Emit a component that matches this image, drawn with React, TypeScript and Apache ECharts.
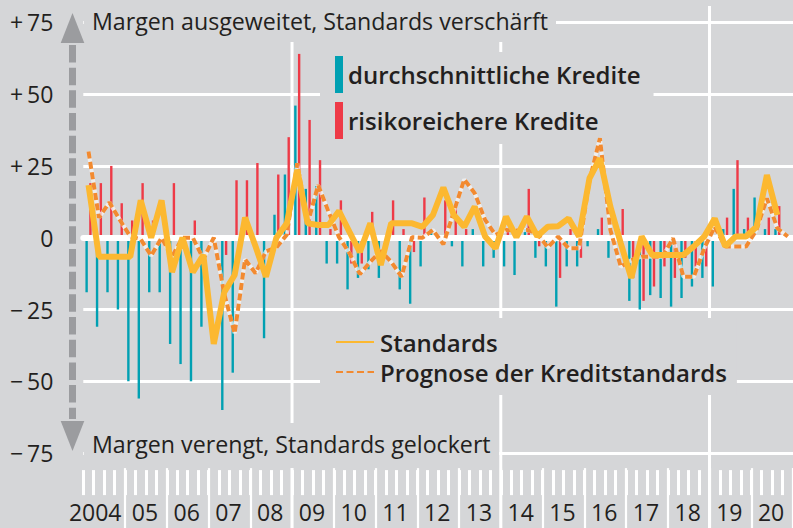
import React, { useEffect, useRef } from "react";
import * as echarts from "echarts";

// ---------- data ----------
const years = [2004, 2005, 2006, 2007, 2008, 2009, 2010, 2011, 2012, 2013, 2014, 2015, 2016, 2017, 2018, 2019, 2020];
const quarterNames = ["Q1", "Q2", "Q3", "Q4"];
const categories = years.flatMap((y) => quarterNames.map((q) => `${y} ${q}`));
const yearLabels = ["2004", "05", "06", "07", "08", "09", "10", "11", "12", "13", "14", "15", "16", "17", "18", "19", "20"];
const fiveYearLines = [2009, 2014, 2019];

// Margins: durchschnittliche Kredite (teal)
const durchschnittliche = [
  -19, -31, -19, -25, -50, -56, -19, -19, -37, -44, -50, -31, 0, -60, -47, 0,
  0, -35, 8, 22, 46, 17, 18, -9, -9, -18, -14, -11, -14, 2, -18, -23,
  -10, 3, 0, -3, -10, 3, -10, -7, -10, -13, 3, -7, -10, -24, -10, -10,
  -3, 3, -7, 3, -22, -25, -20, -21, -24, -21, -17, -14, -17, 3, 17, 3,
  14, 3, 3, null,
];
// Margins: risikoreichere Kredite (red)
const risikoreichere = [
  19, 19, 25, 12, 6, 19, 6, 0, 19, 0, 6, 0, 0, -6, 20, 20,
  26, 0, 22, 35, 64, 41, 27, 3, 13, -9, -9, 9, 0, 13, 3, -5,
  14, 0, 13, 10, 3, 0, 0, 0, 3, 0, 17, -3, 0, -14, 3, -7,
  0, 7, 0, 10, -14, -22, -17, -10, -14, -7, -10, -10, 0, 7, 27, 7,
  0, 7, 11, null,
];
// Standards (solid yellow)
const standards = [
  18.3, -6.6, -6.6, -6.6, -6.6, 13, 0, 13, -12, 0, -12, -6, -37, -19, -13, 7,
  -3, -13.6, 0, 5, 23.6, 5, 4.4, 4.4, 9.3, 2, -5, 5, -9.5, 5, 5, 5,
  3.8, 7.9, 17.5, 7.9, 3.8, 10.8, 0.4, -3.7, 7.3, 0.2, 7.3, 0.5, 3.8, 4, 6.7, 0.4,
  20.7, 27.6, 10.8, -2, -14, 0.4, -6, -6, -6, -6, -3, 0.4, 6.7, -3, 0.4, 0.4,
  3.8, 21.8, 7.9, null,
];
// Prognose der Kreditstandards (dashed orange)
const prognose = [
  30, 7, 12.3, 6.2, 0.4, -0.5, -6.3, 0, -6.6, 0, 0, -7.5, 0, -19.4, -33.3, -7.5,
  -12.4, -4.8, -3.4, 1, 25.9, 5, 18.3, 9, 0.2, -5.4, -12.7, -8.4, -4.6, -8.4, -13.6, 0.2,
  0, 2.7, -2.3, 9, 20.3, 15.5, 6.2, 1, 2.7, 2.5, 2.7, 1.5, -3.4, 0.4, -3.7, -3.7,
  20, 34.6, 2.7, -10.1, -7.8, -6.6, -6.6, -6.6, -0.2, -13.6, -13.6, -3.7, 3.8, -3.1, -3.1, -3.1,
  2.7, 13.7, 3.3, 0.4,
];

// ---------- styles ----------
const BG = "#d5d6d8";
const TEXT = "#231f20";
const TEAL = "#00a0b2";
const RED = "#ee3a47";
const YELLOW = "#fcb830";
const ORANGE = "#f28a30";
const ARROW = "#9b9c9f";
const FONT = '"Open Sans", "Noto Sans", sans-serif';

const yFormatter = (v: number) => (v > 0 ? `+\u2009${v}` : v < 0 ? `\u2212\u2009${-v}` : "0");

export default function App() {
  const ref = useRef<HTMLDivElement | null>(null);

  useEffect(() => {
    if (!ref.current) return;
    const chart = echarts.init(ref.current, undefined, { renderer: "svg" });

    const option: any = {
      animation: false,
      backgroundColor: BG,
      textStyle: { fontFamily: FONT },
      grid: { left: 83.3, top: 22.3, width: 710.6, height: 430.8 },
      xAxis: [
        {
          type: "category",
          data: categories,
          boundaryGap: true,
          position: "bottom",
          z: 3,
          axisLine: { show: true, onZero: true, lineStyle: { color: "#ffffff", width: 6 } },
          axisTick: { show: false },
          axisLabel: { show: false },
          splitLine: { show: false },
        },
        {
          type: "category",
          data: categories,
          boundaryGap: true,
          position: "bottom",
          offset: 17,
          axisLine: { show: false, onZero: false },
          axisTick: { show: true, interval: 0, length: 25, lineStyle: { color: "#ffffff", width: 3 } },
          axisLabel: { show: false },
          splitLine: { show: false },
        },
        {
          type: "category",
          data: categories,
          boundaryGap: true,
          position: "bottom",
          offset: 15,
          axisLine: { show: false, onZero: false },
          axisTick: {
            show: true,
            interval: (idx: number) => idx % 4 === 0 && idx > 0,
            length: 62,
            lineStyle: { color: "#ffffff", width: 2.2 },
          },
          axisLabel: { show: false },
          splitLine: { show: false },
        },
      ],
      yAxis: {
        type: "value",
        min: -75,
        max: 75,
        interval: 25,
        axisLine: { show: false },
        axisTick: { show: false },
        splitLine: { show: true, lineStyle: { color: "#ffffff", width: 3 } },
        axisLabel: { margin: 30, fontSize: 23, fontFamily: FONT, color: TEXT, formatter: yFormatter },
      },
      legend: [
        {
          data: ["durchschnittliche Kredite", "risikoreichere Kredite"],
          orient: "vertical",
          left: 320,
          top: 52,
          padding: [4, 13, 5, 15],
          itemWidth: 8,
          itemHeight: 37,
          itemGap: 9,
          icon: "rect",
          backgroundColor: BG,
          selectedMode: false,
          textStyle: { fontSize: 24, fontWeight: 600, fontFamily: FONT, color: TEXT },
        },
        {
          data: ["Standards", "Prognose der Kreditstandards"],
          orient: "vertical",
          left: 320,
          top: 318,
          padding: [11, 10, 10, 15],
          itemWidth: 38,
          itemHeight: 14,
          itemGap: 4,
          backgroundColor: BG,
          selectedMode: false,
          itemStyle: { opacity: 0, color: "transparent", borderWidth: 0 },
          textStyle: { fontSize: 24, fontWeight: 600, fontFamily: FONT, color: TEXT, lineHeight: 26, padding: [0, 0, 0, 1] },
        },
      ],
      series: [
        {
          name: "durchschnittliche Kredite",
          type: "bar",
          data: durchschnittliche,
          barWidth: 2.4,
          barGap: "58%",
          z: 2,
          itemStyle: { color: TEAL },
        },
        {
          name: "risikoreichere Kredite",
          type: "bar",
          data: risikoreichere,
          barWidth: 2.4,
          barGap: "58%",
          z: 2,
          itemStyle: { color: RED },
        },
        {
          name: "prognoseHalo",
          type: "line",
          data: prognose,
          symbol: "none",
          silent: true,
          z: 4,
          lineStyle: { color: "rgba(245,245,245,0.75)", width: 4 },
        },
        {
          name: "Prognose der Kreditstandards",
          type: "line",
          data: prognose,
          symbol: "none",
          z: 5,
          itemStyle: { color: ORANGE },
          lineStyle: { color: ORANGE, width: 4, type: [7, 3.5] },
        },
        {
          name: "Standards",
          type: "line",
          data: standards,
          symbol: "none",
          z: 6,
          itemStyle: { color: YELLOW },
          lineStyle: { color: YELLOW, width: 6 },
        },
      ],
    };

    chart.setOption(option);

    const px = (cat: string) => chart.convertToPixel({ xAxisIndex: 0 }, cat) as number;
    const band = px(categories[1]) - px(categories[0]);

    const vLines = fiveYearLines.map((y) => {
      const x = px(`${y} Q1`) - band / 2;
      return {
        type: "line",
        z: 1,
        silent: true,
        shape: { x1: x, y1: 6, x2: x, y2: 528 },
        style: { stroke: "#ffffff", lineWidth: 3 },
      };
    });

    const yearTexts = years.map((y, i) => {
      const center = (px(`${y} Q2`) + px(`${y} Q3`)) / 2 + (i === 0 ? -9 : -1);
      return {
        type: "text",
        z: 3,
        x: center,
        y: 512,
        style: {
          text: yearLabels[i],
          fill: TEXT,
          fontSize: 23,
          lineHeight: 22,
          fontFamily: FONT,
          align: "center",
          verticalAlign: "middle",
        },
      };
    });

    chart.setOption({
      graphic: [
        ...vLines,
        ...yearTexts,
        // arrow
        {
          type: "polygon",
          z: 3,
          shape: { points: [[72.5, 13], [84.3, 43], [60.7, 43]] },
          style: { fill: ARROW },
        },
        {
          type: "line",
          z: 3,
          shape: { x1: 72.5, y1: 45, x2: 72.5, y2: 419 },
          style: { stroke: ARROW, lineWidth: 7, lineDash: [17.5, 5.17] },
        },
        {
          type: "polygon",
          z: 3,
          shape: { points: [[60.7, 421], [84.3, 421], [72.5, 451]] },
          style: { fill: ARROW },
        },
        // top caption box
        {
          type: "rect",
          z: 3,
          shape: { x: 84, y: 0, width: 472, height: 42 },
          style: { fill: BG },
        },
        {
          type: "text",
          z: 3,
          x: 92,
          y: 21,
          style: {
            text: "Margen ausgeweitet, Standards verschärft",
            fill: TEXT,
            fontSize: 23.2,
            fontFamily: FONT,
            verticalAlign: "middle",
          },
        },
        // bottom caption box
        {
          type: "rect",
          z: 3,
          shape: { x: 84, y: 423, width: 415, height: 45 },
          style: { fill: BG },
        },
        {
          type: "text",
          z: 3,
          x: 92,
          y: 444,
          style: {
            text: "Margen verengt, Standards gelockert",
            fill: TEXT,
            fontSize: 23.2,
            fontFamily: FONT,
            verticalAlign: "middle",
          },
        },
      ],
    });

    return () => chart.dispose();
  }, []);

  return <div ref={ref} style={{ position: "absolute", left: 0, top: 0, width: 793, height: 528 }} />;
}
